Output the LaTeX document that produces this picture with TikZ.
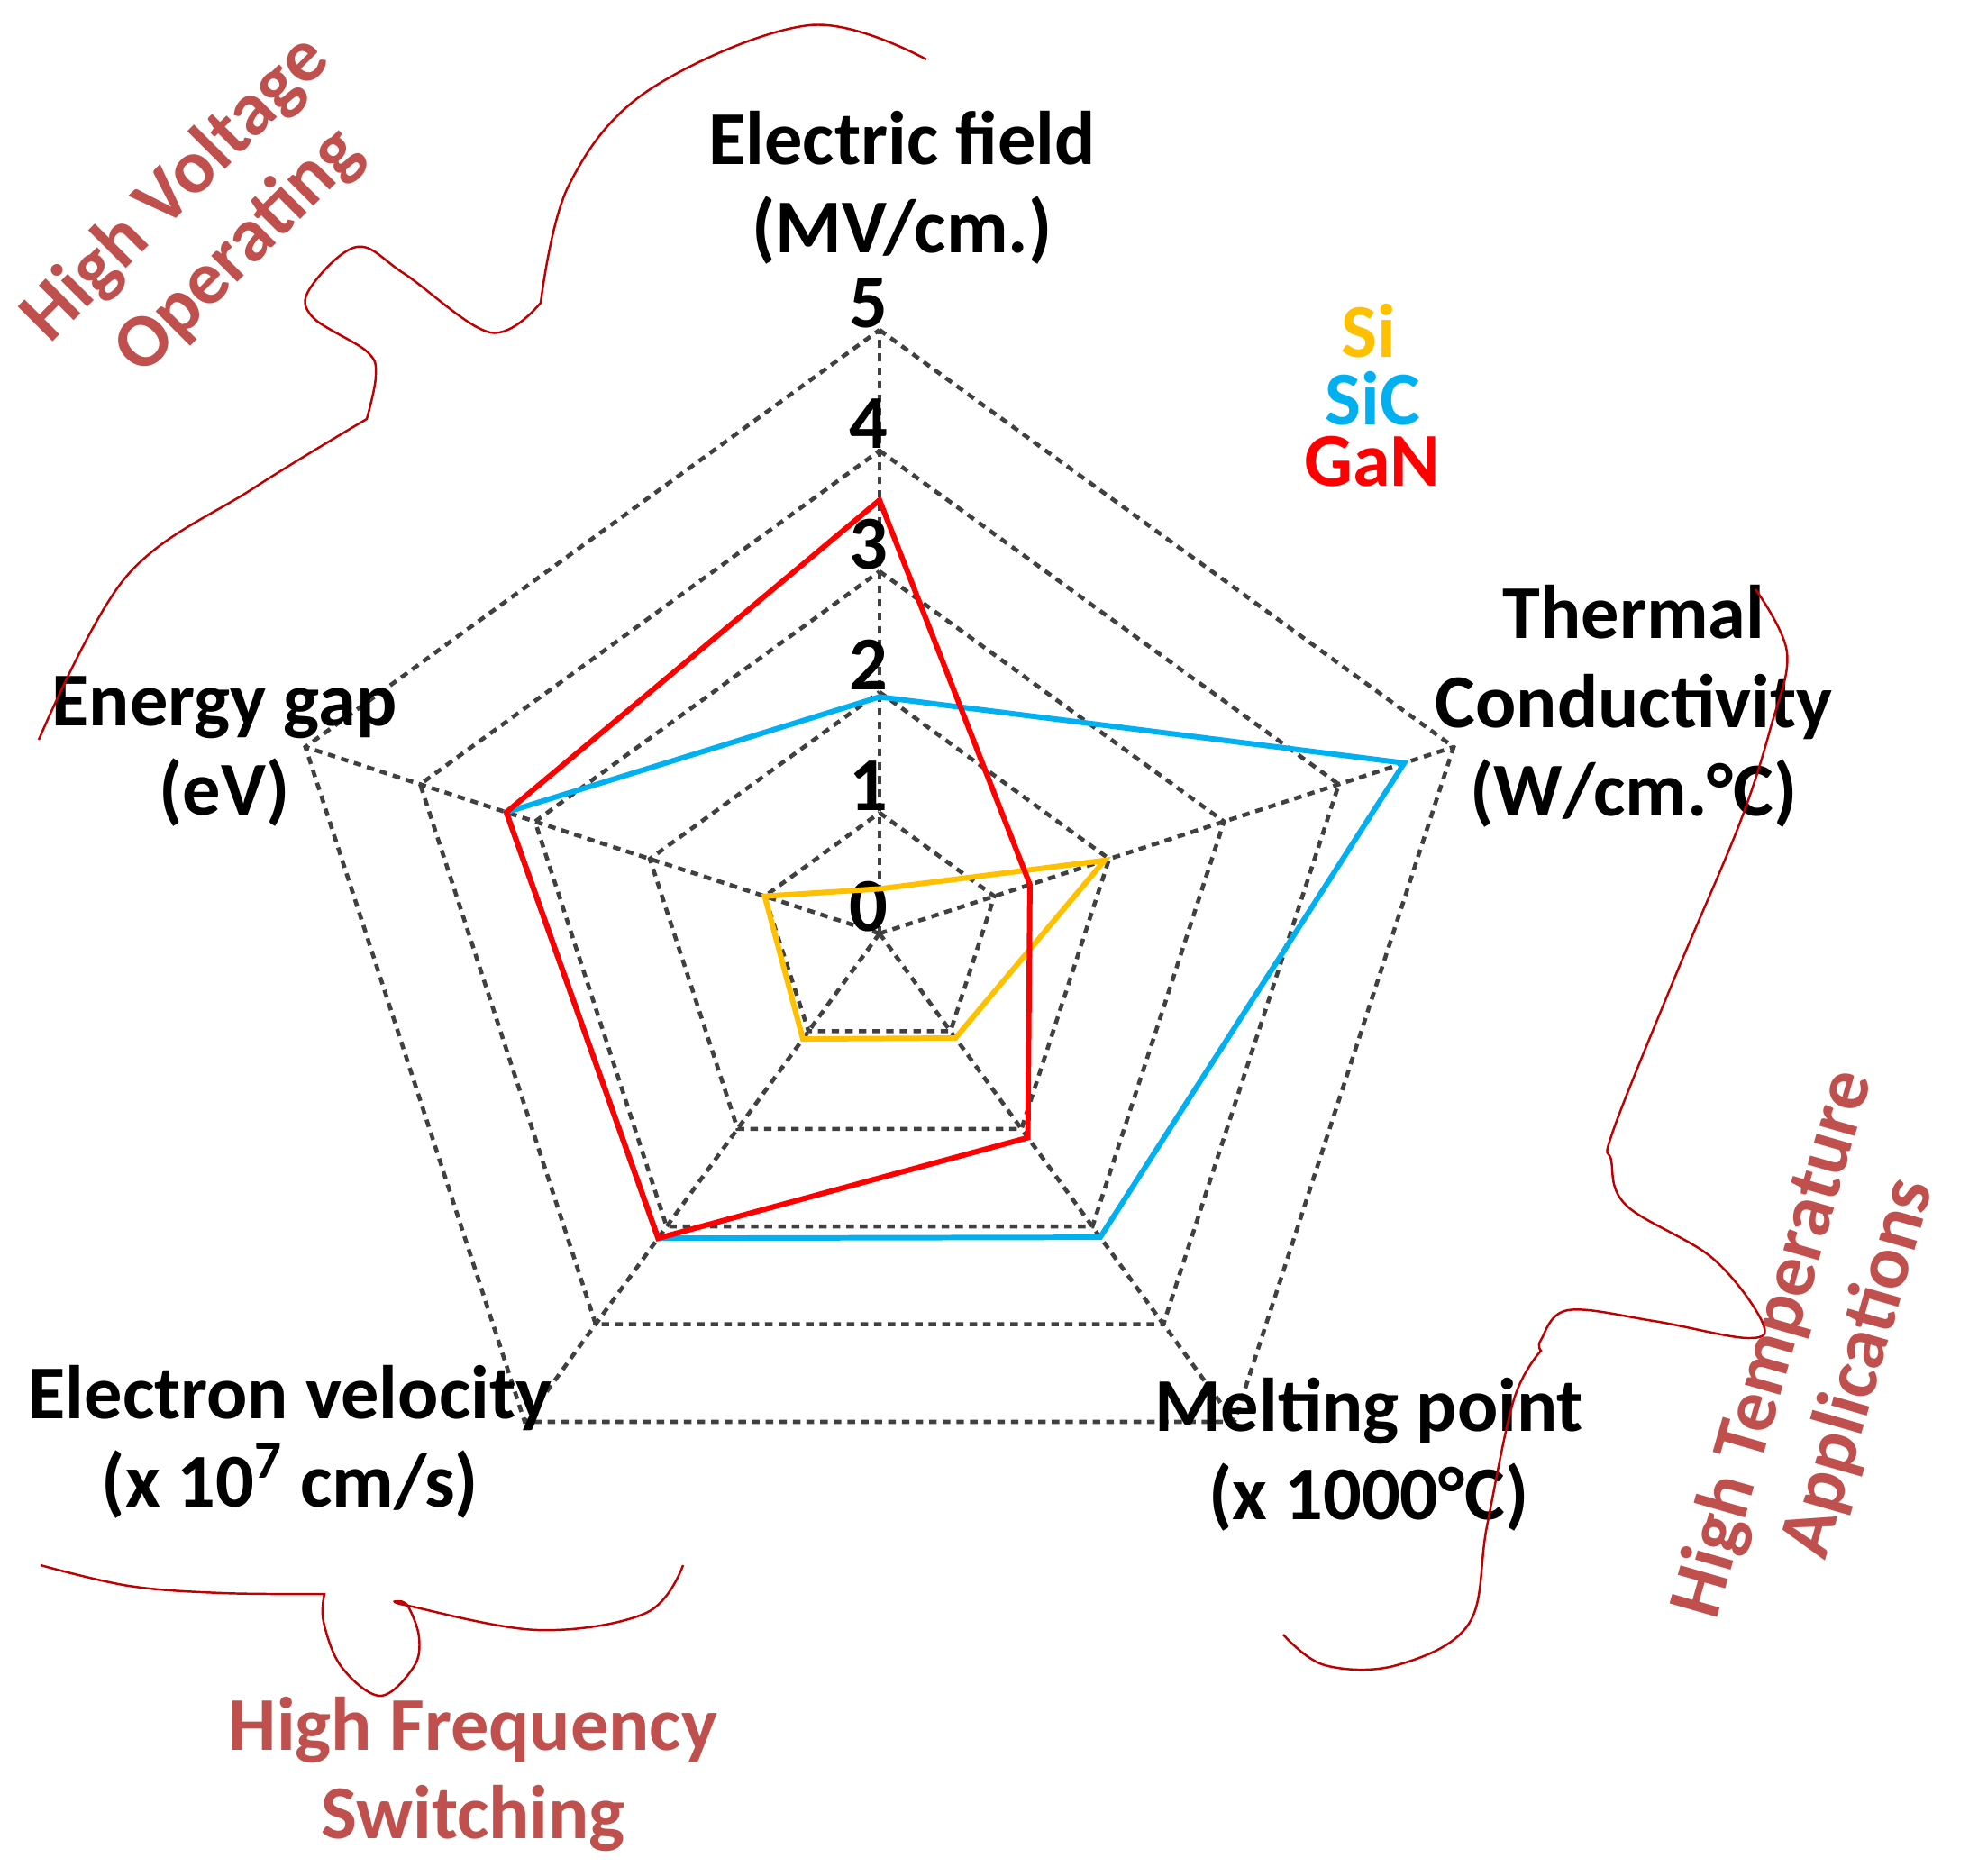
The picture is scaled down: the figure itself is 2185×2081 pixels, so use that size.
\documentclass[tikz,border=0pt]{standalone}
\usepackage{fontspec}
\setmainfont{Carlito}
\begin{document}
\begin{tikzpicture}[x=0.01cm,y=-0.01cm,
  lab/.style={font=\fontsize{24}{28}\selectfont\bfseries, align=center, text=black, inner sep=0pt},
  hl/.style={font=\fontsize{24}{28}\selectfont\bfseries, align=center, text=hlc, inner sep=0pt},
  tick/.style={font=\fontsize{24}{28}\selectfont\bfseries, inner sep=0pt},
  grid/.style={draw=gridc, line width=1.3pt, dash pattern=on 2.4pt off 1.9pt},
  curve/.style={draw=curvec, line width=0.7pt},
  data/.style={line width=1.7pt, line join=miter}]
\definecolor{hlc}{RGB}{192,80,77}
\definecolor{gridc}{RGB}{64,64,64}
\definecolor{curvec}{RGB}{192,0,0}
\definecolor{sic}{RGB}{0,176,240}
\definecolor{si}{RGB}{255,192,0}
\useasboundingbox (0,0) rectangle (2185,2081);
\begin{scope}[shift={(976,1036)}, x=1.339cm, y=1.339cm]
  \coordinate (O) at (0,0);
  \foreach \k in {1,...,5}{
    \draw[grid] (90:\k) -- (18:\k) -- (-54:\k) -- (-126:\k) -- (162:\k) -- cycle;
  }
  \foreach \a in {90,18,-54,-126,162}{ \draw[grid] (O) -- (\a:5); }
  \foreach \k in {0,...,5}{ \node[tick] (t\k) at ([xshift=-0.12cm,yshift=0.3cm]90:\k) {\k}; }
  \draw[data, si] (90:0.37) -- (18:1.96) -- (-54:1.07) -- (-126:1.08) -- (162:1.0) -- cycle;
  \draw[data, sic] (90:1.96) -- (18:4.57) -- (-54:3.11) -- (-126:3.12) -- (162:3.25) -- cycle;
  \draw[data, red] (90:3.59) -- (18:1.31) -- (-54:2.09) -- (-126:3.12) -- (162:3.25) -- cycle;
\end{scope}
% axis labels
\node[lab] (ef) at (1001,208) {Electric field\\(MV/cm.)};
\node[lab] (tc) at (1813,784) {Thermal\\Conductivity\\(W/cm.°C)};
\node[lab] (eg) at (249,834) {Energy gap\\(eV)};
\node[lab] (ev) at (322,1600) {Electron velocity\\(x 10\textsuperscript{7} cm/s)};
\node[lab] (mp) at (1519,1614) {Melting point\\(x 1000°C)};
% legend
\node[lab, text=si] (lsi) at (1519,367) {Si};
\node[lab, text=sic] (lsic) at (1523,442) {SiC};
\node[lab, text=red] (lgan) at (1523,512) {GaN};
% highlights
\node[hl] (hf) at (525,1969) {High Frequency\\Switching};
\node[hl, rotate=45] (hv) at (231,245) {High Voltage\\Operating};
\node[hl, rotate=74] (ht) at (2016,1505) {High Temperature\\Applications};
% curly lines
\draw[curve] plot[smooth, tension=0.6] coordinates {(43,821) (140,640) (281,542) (407,465)}
  -- plot[smooth, tension=0.6] coordinates {(407,465) (417,417) (407,390) (347,352) (344,320) (396,274) (449,304) (544,369) (600,336)}
  -- plot[smooth, tension=0.6] coordinates {(600,336) (631,206) (720,100) (898,28) (1028,66)};
\draw[curve] plot[smooth, tension=0.6] coordinates {(1948,654) (1983,724) (1965,807) (1930,915) (1860,1081) (1790,1255) (1788,1288) (1805,1338) (1900,1396) (1955,1466) (1940,1485) (1835,1466) (1740,1454) (1710,1487) (1710,1499)}
  -- plot[smooth, tension=0.6] coordinates {(1710,1499) (1680,1553) (1650,1694) (1630,1802) (1550,1848) (1470,1848) (1424,1814)};
\draw[curve] plot[smooth, tension=0.6] coordinates {(45,1737) (143,1760) (247,1768) (360,1769)}
  -- plot[smooth, tension=0.6] coordinates {(360,1769) (359,1800) (379,1850) (422,1882) (459,1850) (465,1817) (453,1783) (442,1777)}
  -- plot[smooth, tension=0.6] coordinates {(442,1777) (453,1782) (597,1809) (717,1790) (758,1737)};
\end{tikzpicture}
\end{document}
